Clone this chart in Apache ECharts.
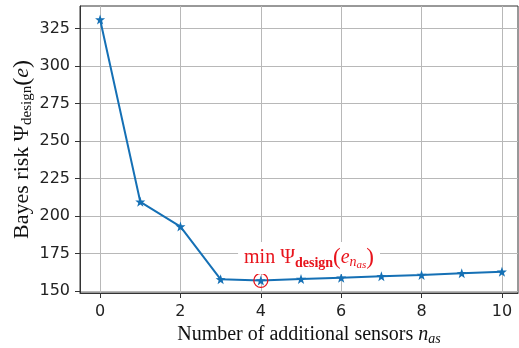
<!DOCTYPE html>
<html>
<head>
<meta charset="utf-8">
<script src="https://cdn.jsdelivr.net/npm/echarts@6/dist/echarts.min.js"></script>
<style>
  html, body { margin: 0; padding: 0; background: #fff; }
  #chart { width: 519px; height: 348px; }
</style>
</head>
<body>
<div id="chart"></div>
<script>
// number of additional sensors and the Bayes risk
const sensors = [0, 1, 2, 3, 4, 5, 6, 7, 8, 9, 10];
const bayesRisk = [331, 209.5, 193, 157.8, 157.1, 158.0, 158.9, 159.8, 160.7, 161.8, 162.9];
const xTicks = [0, 2, 4, 6, 8, 10];
const yTicks = [150, 175, 200, 225, 250, 275, 300, 325];
const minIndex = 4;

const blue = '#1570b5';
const red = '#e8141c';
const star = 'path://M0,-10L2.35,-3.24L9.51,-3.09L3.8,1.24L5.88,8.09L0,4L-5.88,8.09L-3.8,1.24L-9.51,-3.09L-2.35,-3.24Z';
const serif = '"Liberation Serif", "DejaVu Serif", serif';
const sans = '"DejaVu Sans", sans-serif';

const chart = echarts.init(document.getElementById('chart'));

const option = {
  animation: false,
  grid: {
    left: 80,
    top: 6,
    right: 1,
    bottom: 55,
    outerBoundsMode: 'none',
    containLabel: false,
    show: true,
    borderColor: '#333',
    borderWidth: 1,
    backgroundColor: 'transparent'
  },
  xAxis: {
    type: 'value',
    min: -0.5,
    max: 10.4,
    name: '{a|Number of additional sensors }{i|n}{s|as}',
    nameLocation: 'middle',
    nameGap: 25,
    nameTextStyle: {
      verticalAlign: 'top',
      padding: [0, 0, 0, 20],
      rich: {
        a: { fontFamily: serif, fontSize: 20, color: '#111' },
        i: { fontFamily: serif, fontSize: 20, fontStyle: 'italic', color: '#111' },
        s: { fontFamily: serif, fontSize: 14, fontStyle: 'italic', color: '#111', padding: [9, 0, 0, 0] }
      }
    },
    axisLine: { show: true, onZero: false, lineStyle: { color: '#333' } },
    axisTick: { show: true, length: 5, customValues: xTicks, lineStyle: { color: '#333' } },
    axisLabel: { customValues: xTicks, fontFamily: sans, fontSize: 16, color: '#222', margin: 11 },
    splitLine: { show: true, lineStyle: { color: '#b8b8b8', width: 1 } }
  },
  yAxis: {
    type: 'value',
    min: 148.7,
    max: 340,
    name: '{a|Bayes risk Ψ}{s|design}{p|(}{i|e}{p|)}',
    nameLocation: 'middle',
    nameGap: 45,
    nameMoveOverlap: false,
    nameRotate: 90,
    nameTextStyle: {
      rich: {
        a: { fontFamily: serif, fontSize: 22, color: '#111' },
        p: { fontFamily: serif, fontSize: 24, color: '#111' },
        i: { fontFamily: serif, fontSize: 22, fontStyle: 'italic', color: '#111' },
        s: { fontFamily: serif, fontSize: 15, color: '#111', padding: [10, 0, 0, 0] }
      }
    },
    axisLine: { show: true, onZero: false, lineStyle: { color: '#333' } },
    axisTick: { show: true, length: 5, customValues: yTicks, lineStyle: { color: '#333' } },
    axisLabel: { customValues: yTicks, fontFamily: sans, fontSize: 16, color: '#222', margin: 10 },
    splitLine: { show: true, lineStyle: { color: '#b8b8b8', width: 1 } }
  },
  series: [
    {
      type: 'line',
      data: sensors.map((s, i) => [s, bayesRisk[i]]),
      symbol: star,
      symbolSize: 10,
      lineStyle: { color: blue, width: 2 },
      itemStyle: { color: blue },
      z: 3,
      markPoint: {
        silent: true,
        data: [
          {
            coord: [sensors[minIndex], bayesRisk[minIndex]],
            symbol: 'circle',
            symbolSize: 14,
            itemStyle: { color: 'transparent', borderColor: red, borderWidth: 1.3 },
            label: { show: false }
          },
          {
            coord: [5.2, 172],
            symbol: 'circle',
            symbolSize: 0,
            label: {
              show: true,
              position: 'inside',
              backgroundColor: '#fff',
              padding: [3, 6, 3, 6],
              formatter: '{a|min Ψ}{s|design}{p|(}{i|e}{n|n}{t|as}{p|)}',
              rich: {
                a: { fontFamily: serif, fontSize: 20, color: red },
                s: { fontFamily: serif, fontSize: 14, fontWeight: 'bold', color: red, padding: [10, 0, 0, 0] },
                p: { fontFamily: serif, fontSize: 23, color: red },
                i: { fontFamily: serif, fontSize: 20, fontStyle: 'italic', color: red },
                n: { fontFamily: serif, fontSize: 14, fontStyle: 'italic', color: red, padding: [9, 0, 0, 0] },
                t: { fontFamily: serif, fontSize: 11, fontStyle: 'italic', color: red, padding: [15, 0, 0, 0] }
              }
            }
          }
        ]
      }
    }
  ]
};

chart.setOption(option);
</script>
</body>
</html>
